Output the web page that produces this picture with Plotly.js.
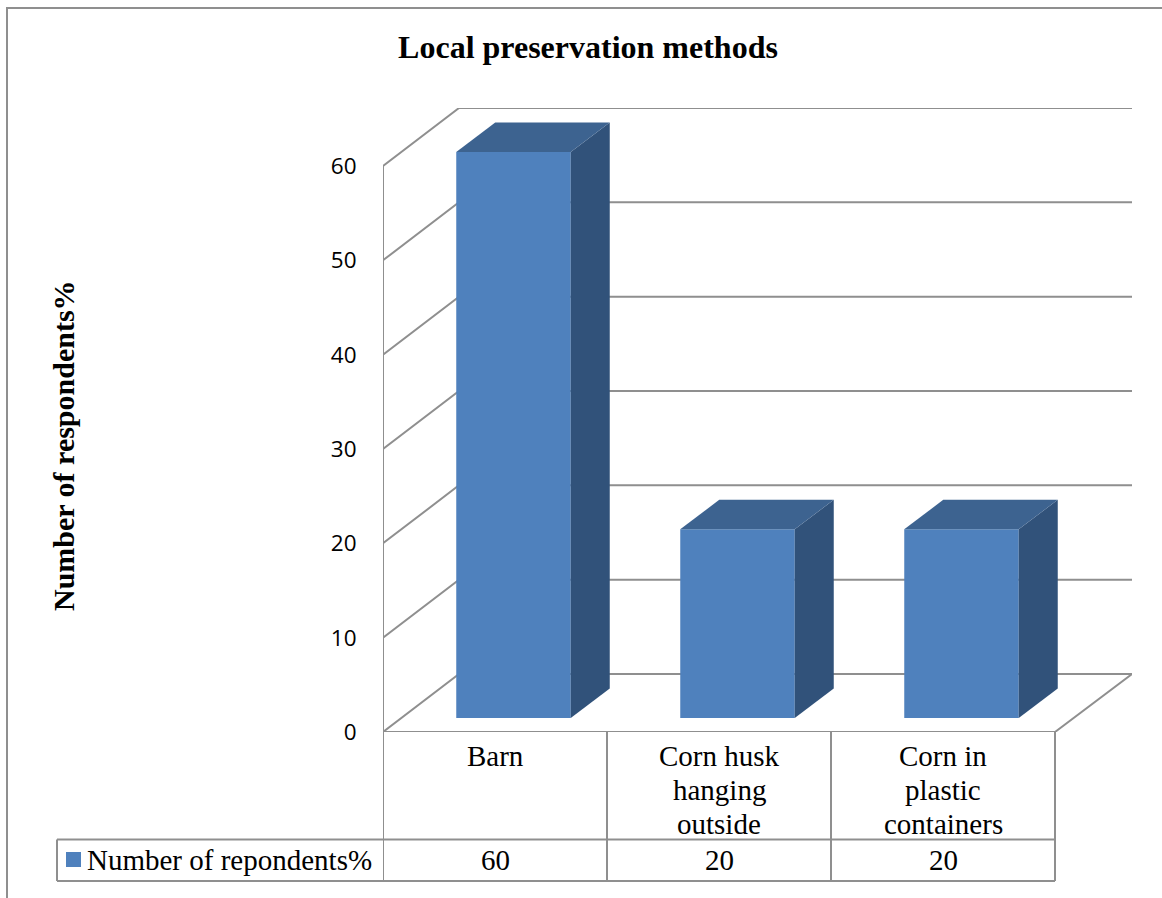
<!DOCTYPE html>
<html>
<head>
<meta charset="utf-8">
<script src="https://cdn.plot.ly/plotly-3.0.1.min.js"></script>
<style>html,body{margin:0;padding:0;background:#fff;overflow:hidden}#chart{width:1162px;height:898px}</style>
</head>
<body>
<div id="chart"></div>
<script>
const categories = ["Barn", "Corn husk<br>hanging<br>outside", "Corn in<br>plastic<br>containers"];
const seriesName = "Number of repondents%";
const seriesValues = [60, 20, 20];
const yTicks = [0, 10, 20, 30, 40, 50, 60];
const chartTitle = "Local preservation methods";
const yTitle = "Number of respondents%";

const W = 1162, H = 898;
const L = 383, R = 1132, T = 108, B = 732;
const CELL = 224, UNIT = 566 / 60;
const GRID = "#8f8f8f", SERIF = "'Liberation Serif', 'Times New Roman', serif";
const FRONT = "#4F81BD", SIDE = "#31527A", TOP = "#3D6390";

// px-size helpers: depth and offsets are expressed in axis units
const dxCat = px => px / CELL, dyVal = px => px / UNIT;
const xMin = -0.5, xMax = xMin + (R - L) / CELL, yMax = (B - T) / UNIT;
const px = v => (v - L) / (R - L), py = v => (B - v) / (B - T);

const wallDx = dxCat(76), wallDy = dyVal(58);
const barDx = dxCat(39), barDy = dyVal(29.5);
const barW = dxCat(114.5), barOff = dxCat(18.5), barBase = dyVal(14);

const line = {color: GRID, width: 2};
const shapes = [];
// walls and floor, behind the bars
yTicks.forEach(v => {
  shapes.push({type: "path", xref: "x", yref: "y", layer: "below", line,
    path: `M ${xMin} ${v} L ${xMin + wallDx} ${v + wallDy} L ${xMax} ${v + wallDy}`});
});
shapes.push({type: "line", xref: "x", yref: "y", layer: "below", line,
  x0: xMin, x1: xMin, y0: 0, y1: yTicks[yTicks.length - 1]});
shapes.push({type: "path", xref: "x", yref: "y", layer: "below", line,
  path: `M ${xMin} 0 L ${xMin + categories.length} 0 L ${xMax} ${wallDy}`});

// data table
const rowY = py(839.5), botY = py(881);
categories.concat([""]).forEach((_, i) => {
  shapes.push({type: "line", xref: "x", yref: "paper", line,
    x0: xMin + i, x1: xMin + i, y0: 0, y1: botY});
});
shapes.push({type: "line", xref: "paper", yref: "paper", line, x0: px(57), x1: px(1055), y0: rowY, y1: rowY});
shapes.push({type: "line", xref: "paper", yref: "paper", line, x0: px(57), x1: px(1055), y0: botY, y1: botY});
shapes.push({type: "line", xref: "paper", yref: "paper", line, x0: px(57), x1: px(57), y0: rowY, y1: botY});
// legend key
shapes.push({type: "rect", xref: "paper", yref: "paper", line: {width: 0}, fillcolor: FRONT,
  x0: px(66), x1: px(81), y0: py(867), y1: py(852)});
// outer chart border
shapes.push({type: "path", xref: "paper", yref: "paper", line,
  path: `M ${px(7)} ${py(898)} L ${px(7)} ${py(8)} L ${px(1162)} ${py(8)}`});

const annotations = [];
const cellFont = {family: SERIF, size: 29, color: "#000"};
categories.forEach((c, i) => {
  c.split("<br>").forEach((t, j) => {
    annotations.push({xref: "x", yref: "paper", x: i, y: py(756 + j * 34), text: t, showarrow: false,
      xanchor: "center", yanchor: "middle", font: cellFont});
  });
  annotations.push({xref: "x", yref: "paper", x: i, y: py(860), text: String(seriesValues[i]), showarrow: false,
    xanchor: "center", yanchor: "middle", font: cellFont});
});
annotations.push({xref: "paper", yref: "paper", x: px(88), y: py(860), text: seriesName, showarrow: false,
  xanchor: "left", yanchor: "middle", font: cellFont, xshift: -3});
annotations.push({xref: "paper", yref: "paper", x: px(63), y: py(446), text: "<b>" + yTitle + "</b>", showarrow: false,
  textangle: -90, xanchor: "center", yanchor: "middle", font: {family: SERIF, size: 30, color: "#000"}});

const xs = categories.map((_, i) => i + barOff);
const traces = [{
  type: "bar", x: xs, y: seriesValues, base: barBase, width: barW, name: seriesName,
  marker: {color: FRONT, line: {width: 0}}, showlegend: false, hoverinfo: "y"
}];
seriesValues.forEach((v, i) => {
  const x0 = xs[i] + barW / 2, xl = xs[i] - barW / 2, y0 = barBase, y1 = barBase + v;
  traces.push({type: "scatter", mode: "lines", fill: "toself", fillcolor: SIDE, line: {width: 0},
    showlegend: false, hoverinfo: "skip",
    x: [x0, x0 + barDx, x0 + barDx, x0, x0], y: [y0, y0 + barDy, y1 + barDy, y1, y0]});
  traces.push({type: "scatter", mode: "lines", fill: "toself", fillcolor: TOP, line: {width: 0},
    showlegend: false, hoverinfo: "skip",
    x: [xl, xl + barDx, x0 + barDx, x0, xl], y: [y1, y1 + barDy, y1 + barDy, y1, y1]});
});

Plotly.newPlot("chart", traces, {
  width: W, height: H,
  margin: {l: L, r: W - R, t: T, b: H - B, pad: 0},
  paper_bgcolor: "#fff", plot_bgcolor: "rgba(0,0,0,0)",
  showlegend: false,
  title: {text: "<b>" + chartTitle + "</b>", xref: "container", yref: "container", x: 588 / W, y: 1 - 47 / H,
    xanchor: "center", yanchor: "middle", font: {family: SERIF, size: 32, color: "#000"}},
  xaxis: {range: [xMin, xMax], showgrid: false, zeroline: false, showline: false, showticklabels: false, ticks: "", fixedrange: true},
  yaxis: {range: [0, yMax], tickvals: yTicks, showgrid: false, zeroline: false, showline: false,
    ticks: "outside", ticklen: 21, tickcolor: "rgba(0,0,0,0)", tickfont: {family: "'Open Sans', sans-serif", size: 22.5, color: "#000"}, fixedrange: true},
  shapes, annotations
}, {displayModeBar: false, staticPlot: true});
</script>
</body>
</html>
